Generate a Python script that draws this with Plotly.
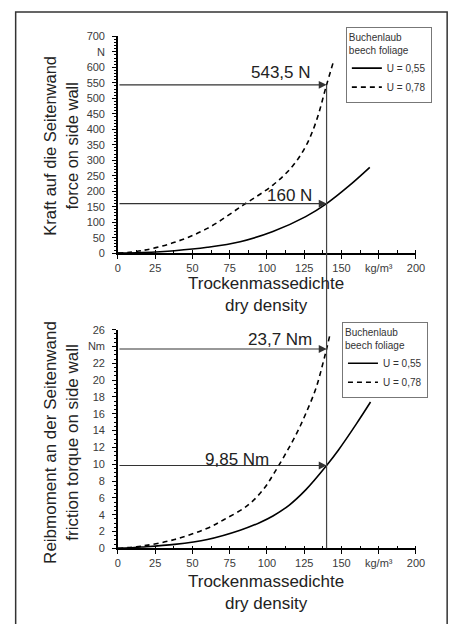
import plotly.graph_objects as go

# ---------------- data ----------------
# top chart: force on side wall (N) vs dry density (kg/m3)
force_x_055 = [0, 16, 38, 60, 82, 104, 126, 140, 155, 169]
force_y_055 = [0, 2, 8, 19, 37, 70, 118, 160, 217, 277]
force_x_078 = [0, 16, 38, 60, 84, 104, 117, 126, 133, 140, 145]
force_y_078 = [0, 8, 35, 80, 155, 220, 280, 345, 425, 543.5, 625]

# bottom chart: friction torque on side wall (Nm) vs dry density
torque_x_055 = [0, 16, 38, 60, 82, 95, 104, 115, 126, 140, 148, 160, 169.5]
torque_y_055 = [0, 0.16, 0.47, 1.05, 2.15, 3.05, 3.85, 5.15, 6.95, 9.85, 11.7, 14.8, 17.4]
torque_x_078 = [0, 16, 38, 60, 71, 87, 98, 105, 113, 120, 126, 133, 138, 140, 142]
torque_y_078 = [0, 0.27, 1.05, 2.4, 3.4, 5.1, 7.1, 9.0, 11.4, 13.7, 16, 19.1, 22.3, 23.7, 25.2]

series_names = ["U = 0,55", "U = 0,78"]
legend_title = "Buchenlaub<br>beech foliage"

x_ticks = [0, 25, 50, 75, 100, 125, 150, 175, 200]
x_ticktext = ["0", "25", "50", "75", "100", "125", "150", "kg/m³", "200"]
force_ticks = list(range(0, 701, 50))
force_ticktext = [str(v) if v != 650 else "N" for v in force_ticks]
torque_ticks = list(range(0, 27, 2))
torque_ticktext = [str(v) if v != 24 else "Nm" for v in torque_ticks]

marker_density = 140
force_marks = [(543.5, "543,5 N"), (160, "160 N")]
torque_marks = [(23.7, "23,7 Nm"), (9.85, "9,85 Nm")]

x_title = "Trockenmassedichte<br>dry density"
force_title = "Kraft auf die Seitenwand<br>force on side wall"
torque_title = "Reibmoment an der Seitenwand<br>friction torque on side wall"

# ---------------- layout geometry ----------------
W, H = 462, 624
def px(x):
    return x / W
def py(y):
    return 1 - y / H

xdom = [px(118), px(424)]
top_dom = [py(252), py(31)]
bot_dom = [py(553), py(330)]

FONT = "Liberation Sans, Arial, sans-serif"
INK = "#222222"
TICK = "#3a3a3a"

fig = go.Figure()

fig.add_trace(go.Scatter(x=force_x_055, y=force_y_055, mode="lines", name=series_names[0],
                         line=dict(color="black", width=1.6, shape="spline"),
                         xaxis="x", yaxis="y", legend="legend"))
fig.add_trace(go.Scatter(x=force_x_078, y=force_y_078, mode="lines", name=series_names[1],
                         line=dict(color="black", width=1.6, dash="5px,4px", shape="spline"),
                         xaxis="x", yaxis="y", legend="legend"))
fig.add_trace(go.Scatter(x=torque_x_055, y=torque_y_055, mode="lines", name=series_names[0],
                         line=dict(color="black", width=1.6, shape="spline"),
                         xaxis="x2", yaxis="y2", legend="legend2"))
fig.add_trace(go.Scatter(x=torque_x_078, y=torque_y_078, mode="lines", name=series_names[1],
                         line=dict(color="black", width=1.6, dash="5px,4px", shape="spline"),
                         xaxis="x2", yaxis="y2", legend="legend2"))

axis_common = dict(showline=True, linecolor="black", linewidth=1.5, showgrid=False, zeroline=False,
                   ticks="outside", ticklen=4, tickwidth=1.2, tickcolor="black",
                   tickfont=dict(family=FONT, size=11, color=TICK))

xaxis_cfg = dict(axis_common, range=[0, 200], tickmode="array", tickvals=x_ticks, ticktext=x_ticktext,
                 minor=dict(ticks="inside", dtick=12.5, tick0=0, ticklen=3, tickcolor="black", tickwidth=1),
                 domain=xdom)
yaxis_extra = dict(ticklabelstandoff=5)

legend_common = dict(xanchor="left", yanchor="top",
                     bgcolor="white", bordercolor="#777777", borderwidth=1,
                     font=dict(family=FONT, size=10, color="#333333"),
                     title=dict(text=legend_title, font=dict(family=FONT, size=10, color="#333333")),
                     itemwidth=30, tracegroupgap=0)

fig.update_layout(
    width=W, height=H, autosize=False,
    margin=dict(l=0, r=0, t=0, b=0),
    paper_bgcolor="white", plot_bgcolor="white",
    font=dict(family=FONT, color=INK),
    xaxis=dict(xaxis_cfg, anchor="y"),
    yaxis=dict(axis_common, **yaxis_extra, range=[0, 700], tickmode="array", tickvals=force_ticks,
               ticktext=force_ticktext,
               minor=dict(ticks="outside", dtick=10, ticklen=2.5, tickcolor="black", tickwidth=1),
               domain=top_dom, anchor="x"),
    xaxis2=dict(xaxis_cfg, anchor="y2"),
    yaxis2=dict(axis_common, **yaxis_extra, range=[0, 26], tickmode="array", tickvals=torque_ticks,
                ticktext=torque_ticktext,
                minor=dict(ticks="outside", dtick=0.5, ticklen=2.5, tickcolor="black", tickwidth=1),
                domain=bot_dom, anchor="x2"),
    legend=dict(legend_common, x=px(352), y=py(21)),
    legend2=dict(legend_common, x=px(348), y=py(322)),
)

# outer frame
fig.add_shape(type="rect", xref="paper", yref="paper", x0=px(13), x1=px(456), y0=-0.02, y1=py(6),
              line=dict(color="#333333", width=1.5), layer="below")

# vertical marker line at 140 kg/m3 spanning both charts
top_val = force_marks[0][0]
y_top_paper = top_dom[0] + top_val / 700 * (top_dom[1] - top_dom[0])
fig.add_shape(type="line", xref="x", yref="paper", x0=marker_density, x1=marker_density,
              y0=bot_dom[0], y1=y_top_paper, line=dict(color="#444444", width=1.2))

# horizontal arrows + value labels
label_pos = {  # (x_right, y_center) in data coords
    "543,5 N": (131, 582), "160 N": (131.5, 186),
    "23,7 Nm": (131.5, 24.8), "9,85 Nm": (103, 10.6),
}
for (val, lab), (xr, yr) in [(m, ("x", "y")) for m in force_marks] + [(m, ("x2", "y2")) for m in torque_marks]:
    fig.add_annotation(x=marker_density, y=val, ax=0, ay=val, xref=xr, yref=yr, axref=xr, ayref=yr,
                       text="", showarrow=True, arrowhead=2, arrowsize=1.3, arrowwidth=1.2,
                       arrowcolor="#333333", standoff=0)
    lx, ly = label_pos[lab]
    fig.add_annotation(x=lx, y=ly, xref=xr, yref=yr, text=lab, showarrow=False,
                       xanchor="right", yanchor="middle",
                       font=dict(family=FONT, size=17, color=INK))

# axis titles
for ycen in (294, 598):
    fig.add_annotation(x=px(270), y=py(ycen), xref="paper", yref="paper", text=x_title,
                       showarrow=False, xanchor="center", yanchor="middle",
                       font=dict(family=FONT, size=17, color=INK))
fig.add_annotation(x=px(59), y=py(142), xref="paper", yref="paper", text=force_title, textangle=-90,
                   showarrow=False, xanchor="center", yanchor="middle",
                   font=dict(family=FONT, size=16.5, color=INK))
fig.add_annotation(x=px(60), y=py(445), xref="paper", yref="paper", text=torque_title, textangle=-90,
                   showarrow=False, xanchor="center", yanchor="middle",
                   font=dict(family=FONT, size=17, color=INK))

fig.write_html("out.html", config={"displayModeBar": False},
               post_script="document.body.style.margin='0px';document.body.style.overflow='hidden';")
